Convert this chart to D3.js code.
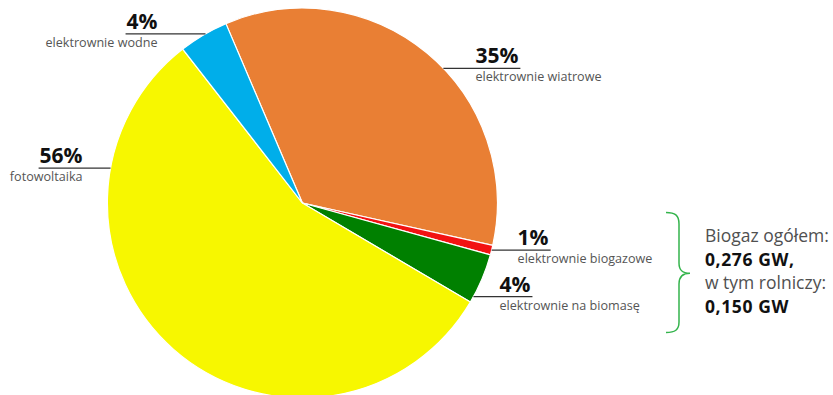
<!DOCTYPE html>
<html>
<head>
<meta charset="utf-8">
<script src="https://cdn.jsdelivr.net/npm/d3@7"></script>
<style>
  body { margin: 0; background: #fff; }
  svg { display: block; font-family: "Open Sans", sans-serif; }
</style>
</head>
<body>
<svg id="chart" width="833" height="395"></svg>
<script>
// Installed renewable capacity structure (% share)
const categories = ["elektrownie wiatrowe", "elektrownie biogazowe", "elektrownie na biomasę", "fotowoltaika", "elektrownie wodne"];
const shares = [34.9, 0.8, 4.2, 56.0, 4.1];
const colors = ["#e97f34", "#f21212", "#008000", "#f7f700", "#00aeea"];

// Leader placement: angle on the rim (degrees clockwise from 12 o'clock) and gap to the text
const labelAngles = [46.3, 104.0, 118.7, 280.3, 330.2];
const labelGaps = [32, 26, 26, 28, 48];

// Biogas note
const noteLines = ["Biogaz ogółem:", "0,276 GW,", "w tym rolniczy:", "0,150 GW"];
const noteBold = [false, true, false, true];

const svg = d3.select("#chart");
const cx = 302.4, cy = 203, R = 195;
const deg = Math.PI / 180;
const start = -23.1 * deg;

const data = categories.map((c, i) => ({ name: c, value: shares[i], color: colors[i], la: labelAngles[i], gap: labelGaps[i] }));

const pie = d3.pie().sort(null).value(d => d.value)
  .startAngle(start).endAngle(start + 2 * Math.PI);
const arc = d3.arc().innerRadius(0).outerRadius(R);

const g = svg.append("g").attr("transform", `translate(${cx},${cy})`);
g.selectAll("path.slice")
  .data(pie(data))
  .join("path")
  .attr("class", "slice")
  .attr("d", arc)
  .attr("fill", d => d.data.color)
  .attr("stroke", "#fff")
  .attr("stroke-width", 1.2)
  .attr("stroke-linejoin", "round");

// Labels with horizontal leader lines
const labels = svg.append("g");
data.forEach(d => {
  const a = d.la * deg;
  const ex = cx + R * Math.sin(a);
  const ey = cy - R * Math.cos(a);
  const right = Math.sin(a) > 0;
  const tx = right ? ex + d.gap : ex - d.gap;
  const anchor = right ? "start" : "end";

  const pct = labels.append("text")
    .attr("x", tx).attr("y", ey - 5)
    .attr("text-anchor", anchor)
    .attr("font-size", 21).attr("font-weight", 700)
    .attr("fill", "#111")
    .text(Math.round(d.value) + "%");

  labels.append("text")
    .attr("x", tx).attr("y", ey + 13)
    .attr("text-anchor", anchor)
    .attr("font-size", 12.6)
    .attr("fill", "#555")
    .text(d.name);

  const bb = pct.node().getBBox();
  const far = right ? bb.x + bb.width + 2 : bb.x - 1;
  labels.append("line")
    .attr("x1", ex).attr("x2", far)
    .attr("y1", ey).attr("y2", ey)
    .attr("stroke", "#333").attr("stroke-width", 1.3);
});

// Curly brace grouping the biogas note
svg.append("path")
  .attr("d", "M666,212.5 C675,212.5 679,215 679,224 L679,263 C679,270 682,273.3 690,273.3 C682,273.3 679,277 679,284 L679,322 C679,330 675,332.5 666,332.5")
  .attr("fill", "none")
  .attr("stroke", "#34b44c")
  .attr("stroke-width", 1.5);

svg.append("g").selectAll("text")
  .data(noteLines)
  .join("text")
  .attr("x", 705)
  .attr("y", (d, i) => 242 + i * 23.5)
  .attr("font-size", 17.5)
  .attr("font-weight", (d, i) => noteBold[i] ? 700 : 400)
  .attr("letter-spacing", (d, i) => noteBold[i] ? 0.6 : 0)
  .attr("fill", (d, i) => noteBold[i] ? "#111" : "#505050")
  .text(d => d);
</script>
</body>
</html>
